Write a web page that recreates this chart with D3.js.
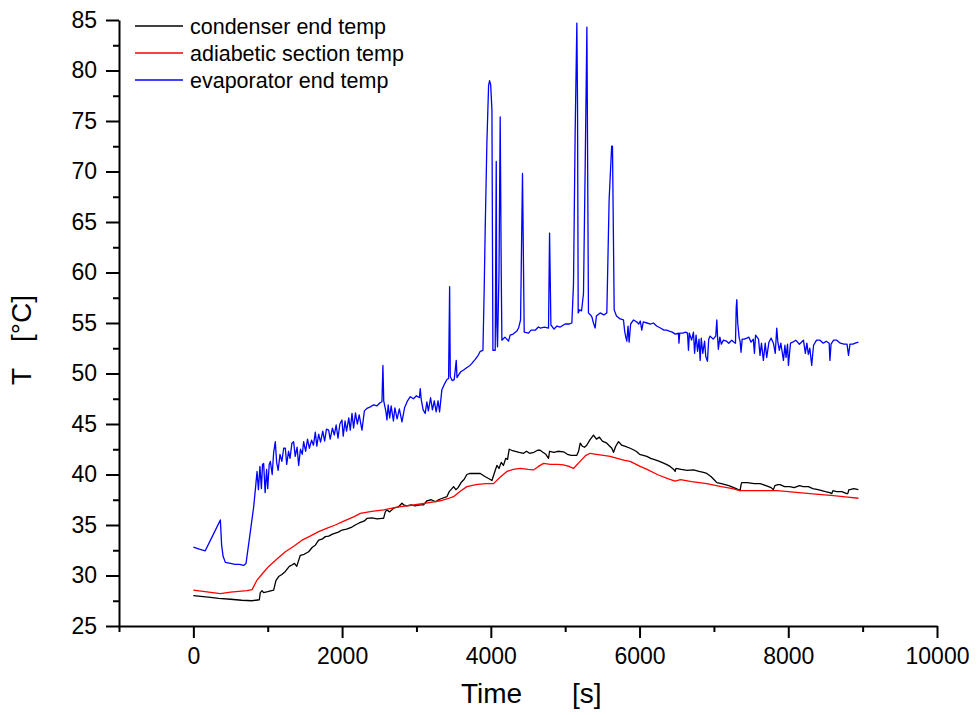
<!DOCTYPE html>
<html>
<head>
<meta charset="utf-8">
<script src="https://cdn.jsdelivr.net/npm/d3@7"></script>
<style>
  body { margin: 0; background: #fff; }
  text { font-family: "Liberation Sans", Arial, sans-serif; }
</style>
</head>
<body>
<div id="chart"></div>
<script>
// series: [time (s), temperature (°C)]
var condenser = [[0,28.0],[200,27.85],[340,27.74],[500,27.65],[650,27.55],[789,27.5],[887,27.6],[900,28.3],[923,28.5],[945,28.3],[1000,28.4],[1080,28.56],[1110,29.5],[1147,29.9],[1190,30.1],[1237,30.4],[1290,30.9],[1326,31.04],[1360,31.2],[1390,30.9],[1438,32.0],[1490,32.1],[1550,32.35],[1600,32.8],[1640,33.0],[1685,33.5],[1730,33.6],[1774,33.85],[1820,33.9],[1870,34.1],[1909,34.2],[1950,34.3],[1998,34.5],[2060,34.6],[2133,34.8],[2177,35.0],[2230,35.2],[2300,35.4],[2334,35.65],[2400,35.7],[2470,35.6],[2536,35.65],[2558,35.65],[2581,36.3],[2600,36.5],[2640,36.3],[2700,36.7],[2760,36.8],[2805,37.15],[2827,37.0],[2870,36.9],[2930,37.0],[2980,36.9],[3050,37.0],[3096,37.0],[3141,37.4],[3200,37.5],[3260,37.3],[3297,37.5],[3330,37.6],[3409,37.8],[3440,38.3],[3477,38.6],[3499,38.8],[3530,38.5],[3560,38.7],[3600,39.2],[3640,39.5],[3678,40.0],[3720,40.1],[3780,40.1],[3858,40.1],[3920,39.8],[3970,39.6],[4015,39.4],[4050,40.2],[4082,40.9],[4110,40.6],[4140,41.2],[4170,40.9],[4200,41.6],[4225,41.5],[4247,42.5],[4280,42.4],[4330,42.3],[4380,42.2],[4440,42.1],[4480,42.3],[4520,42.1],[4580,42.2],[4630,42.4],[4664,42.4],[4700,42.2],[4740,42.0],[4776,41.6],[4790,42.3],[4850,42.2],[4900,42.3],[4977,42.25],[5030,42.0],[5080,41.9],[5112,41.9],[5157,41.9],[5180,42.3],[5202,43.1],[5230,42.8],[5260,42.7],[5290,42.9],[5330,43.4],[5381,43.9],[5420,43.5],[5460,43.7],[5500,43.3],[5560,43.1],[5600,42.8],[5627,42.6],[5650,42.2],[5680,42.8],[5717,43.25],[5760,42.9],[5800,42.8],[5874,42.6],[5930,42.4],[5963,42.25],[6000,42.0],[6098,41.8],[6150,41.6],[6232,41.4],[6300,41.2],[6360,41.0],[6411,40.8],[6460,40.5],[6478,40.3],[6490,40.6],[6560,40.5],[6640,40.4],[6725,40.45],[6800,40.3],[6860,40.2],[6904,40.1],[6960,39.8],[7000,39.5],[7039,39.2],[7100,39.1],[7200,38.9],[7300,38.6],[7352,38.4],[7365,39.0],[7375,39.2],[7450,39.2],[7540,39.1],[7621,39.1],[7700,38.9],[7770,38.7],[7800,38.5],[7820,38.9],[7860,39.0],[7890,39.0],[7950,38.8],[8020,38.8],[8080,38.7],[8150,38.9],[8200,38.8],[8270,38.8],[8330,38.6],[8400,38.5],[8500,38.3],[8560,38.2],[8584,38.1],[8600,38.4],[8650,38.3],[8720,38.3],[8785,38.1],[8800,38.1],[8815,38.5],[8831,38.5],[8880,38.6],[8943,38.5]];

var adiabatic = [[0,28.56],[363,28.2],[500,28.35],[721,28.5],[790,28.6],[856,29.55],[930,30.2],[1013,30.9],[1120,31.6],[1237,32.35],[1350,32.9],[1461,33.5],[1570,33.9],[1685,34.35],[1800,34.7],[1909,35.0],[2030,35.4],[2155,35.8],[2245,36.15],[2400,36.35],[2558,36.5],[2760,36.8],[2961,36.98],[3150,37.2],[3320,37.4],[3420,37.6],[3499,37.8],[3580,38.3],[3678,38.8],[3800,39.0],[3930,39.1],[4037,39.1],[4120,39.7],[4216,40.3],[4300,40.5],[4395,40.6],[4500,40.5],[4574,40.45],[4640,40.8],[4709,41.1],[4800,41.0],[4900,41.0],[4977,40.95],[5050,40.8],[5112,40.6],[5200,41.3],[5280,41.9],[5336,42.1],[5420,42.0],[5515,41.9],[5605,41.8],[5700,41.6],[5800,41.4],[5874,41.3],[6008,40.8],[6100,40.5],[6254,39.95],[6380,39.6],[6478,39.35],[6550,39.5],[6700,39.3],[6904,39.1],[7100,38.8],[7250,38.6],[7352,38.4],[7500,38.4],[7700,38.4],[7845,38.4],[8000,38.3],[8293,38.1],[8450,38.0],[8606,37.9],[8800,37.75],[8943,37.65]];

var evaporator = [[0,32.8],[80,32.6],[160,32.45],[250,33.8],[363,35.5],[380,33.0],[400,31.9],[430,31.3],[500,31.2],[560,31.1],[620,31.1],[676,31.0],[708,31.2],[760,34.0],[811,36.8],[840,39.0],[856,40.3],[875,38.5],[895,40.8],[915,38.6],[930,41.0],[945,41.1],[965,38.2],[985,40.5],[1000,38.6],[1020,41.0],[1035,41.3],[1060,40.0],[1080,42.2],[1102,43.25],[1120,41.2],[1140,40.4],[1165,42.0],[1190,41.3],[1215,42.6],[1237,42.6],[1255,41.0],[1280,42.3],[1300,41.6],[1325,43.1],[1348,43.25],[1370,41.8],[1395,42.7],[1416,40.9],[1440,42.5],[1465,42.0],[1483,43.25],[1510,42.3],[1535,43.5],[1560,42.6],[1590,43.4],[1615,42.9],[1640,44.2],[1660,42.8],[1685,44.0],[1710,43.2],[1740,44.3],[1765,43.3],[1790,44.5],[1819,44.4],[1840,43.5],[1870,44.6],[1895,43.9],[1920,44.9],[1945,43.6],[1970,45.0],[1998,45.4],[2015,43.8],[2040,45.3],[2060,44.3],[2090,45.6],[2110,44.4],[2133,46.05],[2155,44.6],[2180,46.1],[2205,45.0],[2230,45.9],[2267,44.4],[2300,46.3],[2334,46.55],[2380,46.7],[2424,46.9],[2470,46.8],[2510,47.1],[2536,47.2],[2549,50.8],[2560,47.3],[2590,46.2],[2603,45.4],[2620,46.9],[2640,45.6],[2660,46.8],[2690,45.3],[2710,46.6],[2740,45.5],[2770,46.5],[2805,45.2],[2840,46.6],[2880,47.3],[2917,47.7],[2960,47.5],[3000,47.8],[3040,47.6],[3051,48.5],[3065,47.4],[3090,46.4],[3118,46.05],[3140,47.2],[3160,46.3],[3190,47.6],[3215,46.4],[3240,47.3],[3265,46.2],[3290,47.3],[3311,46.2],[3342,48.4],[3380,49.0],[3409,49.4],[3432,49.5],[3446,58.6],[3455,49.7],[3480,49.3],[3508,49.4],[3535,51.3],[3545,49.6],[3570,49.9],[3600,50.2],[3633,50.35],[3680,50.6],[3720,50.8],[3745,51.0],[3790,51.4],[3830,51.8],[3858,52.2],[3894,52.3],[3910,58.0],[3925,64.5],[3947,72.8],[3970,78.5],[3983,79.0],[3998,78.6],[4015,76.1],[4028,52.3],[4059,52.3],[4073,71.0],[4080,55.0],[4090,52.65],[4110,60.0],[4126,75.4],[4140,60.0],[4149,53.3],[4190,53.6],[4238,53.2],[4260,53.8],[4300,53.9],[4350,54.2],[4373,54.5],[4400,55.3],[4426,69.8],[4449,54.1],[4507,54.0],[4540,54.3],[4600,54.3],[4640,54.6],[4664,54.5],[4720,54.6],[4776,54.5],[4790,63.9],[4808,54.8],[4850,54.4],[4890,54.7],[4933,54.6],[5000,54.9],[5050,54.9],[5090,55.0],[5112,58.9],[5134,73.8],[5157,84.7],[5166,76.4],[5175,56.0],[5193,56.3],[5220,56.2],[5246,57.9],[5269,70.5],[5292,84.3],[5313,56.0],[5340,55.8],[5359,55.6],[5380,55.0],[5403,54.5],[5420,55.7],[5470,56.0],[5520,55.8],[5560,56.0],[5591,67.2],[5625,72.5],[5636,72.5],[5659,56.3],[5690,55.7],[5740,55.4],[5784,55.3],[5800,54.2],[5815,53.6],[5829,53.2],[5845,54.7],[5860,53.1],[5880,54.9],[5920,55.3],[5963,55.1],[5990,54.9],[6010,55.2],[6030,54.3],[6050,55.1],[6100,55.0],[6150,54.9],[6187,55.0],[6230,54.7],[6280,54.5],[6330,54.3],[6366,54.3],[6400,54.2],[6440,54.1],[6480,53.9],[6523,54.0],[6530,53.0],[6540,54.0],[6580,54.0],[6620,54.1],[6645,54.0],[6658,52.3],[6670,54.0],[6700,53.3],[6725,54.1],[6740,52.0],[6760,53.8],[6780,52.2],[6800,53.4],[6815,51.3],[6830,53.5],[6850,52.0],[6875,53.2],[6890,51.7],[6913,51.2],[6930,53.4],[6949,53.7],[6990,53.4],[7025,53.7],[7039,55.3],[7050,53.5],[7060,52.4],[7080,53.6],[7100,52.9],[7128,53.3],[7170,53.2],[7200,53.0],[7240,53.3],[7270,53.1],[7290,53.0],[7300,56.5],[7308,57.3],[7320,55.0],[7340,53.5],[7352,53.2],[7365,52.1],[7380,53.4],[7410,53.4],[7442,53.5],[7470,53.6],[7500,53.1],[7530,53.4],[7545,52.0],[7560,53.8],[7580,53.6],[7600,53.4],[7620,51.8],[7640,53.0],[7665,51.3],[7690,53.0],[7710,51.6],[7740,53.1],[7770,53.5],[7800,53.0],[7825,52.0],[7845,54.5],[7860,53.1],[7880,52.3],[7900,53.0],[7935,51.3],[7955,52.8],[7970,51.6],[7990,52.9],[8002,50.8],[8030,53.0],[8060,53.1],[8100,53.3],[8150,52.9],[8204,53.3],[8230,52.0],[8250,53.0],[8270,51.9],[8290,52.5],[8315,50.8],[8340,52.8],[8380,53.3],[8427,53.3],[8470,53.0],[8510,53.2],[8550,53.0],[8560,51.3],[8575,52.9],[8610,53.3],[8652,53.3],[8700,53.0],[8750,52.9],[8790,52.9],[8810,51.8],[8830,52.9],[8870,52.9],[8900,53.0],[8943,53.1]];

var seriesNames = ["condenser end temp", "adiabetic section temp", "evaporator end temp"];
var seriesColors = ["#000000", "#ff0000", "#0000ff"];

var xMajor = [0, 2000, 4000, 6000, 8000, 10000];
var xMinor = [-1000, 1000, 3000, 5000, 7000, 9000];
var yMajor = [25, 30, 35, 40, 45, 50, 55, 60, 65, 70, 75, 80, 85];
var yMinor = [27.5, 32.5, 37.5, 42.5, 47.5, 52.5, 57.5, 62.5, 67.5, 72.5, 77.5, 82.5];

function drawChart(){
    var width = 977, height = 715;
    var m = {left: 119, right: 937, top: 20, bottom: 626};

    var svg = d3.select("#chart").append("svg")
        .attr("width", width)
        .attr("height", height);

    var x = d3.scaleLinear().domain([-1000, 10000]).range([m.left, m.right]);
    var y = d3.scaleLinear().domain([25, 85]).range([m.bottom, m.top]);

    // minor ticks first, then the labelled axis on top
    svg.append("g")
        .attr("transform", "translate(0," + m.bottom + ")")
        .call(d3.axisBottom(x).tickValues(xMinor).tickSize(6).tickFormat(""))
        .call(function(g){ g.select(".domain").remove(); });

    svg.append("g")
        .attr("transform", "translate(" + m.left + ",0)")
        .call(d3.axisLeft(y).tickValues(yMinor).tickSize(6).tickFormat(""))
        .call(function(g){ g.select(".domain").remove(); });

    svg.append("g")
        .attr("transform", "translate(0," + m.bottom + ")")
        .call(d3.axisBottom(x).tickValues(xMajor).tickSize(12).tickSizeOuter(0).tickPadding(10).tickFormat(d3.format("d")));

    svg.append("g")
        .attr("transform", "translate(" + m.left + ",0)")
        .call(d3.axisLeft(y).tickValues(yMajor).tickSize(13).tickSizeOuter(0).tickPadding(9));

    svg.selectAll(".tick line, .domain")
        .attr("stroke", "#000")
        .attr("stroke-width", 2);
    svg.selectAll(".tick text")
        .attr("fill", "#000")
        .style("font-size", "23px")
        .style("font-family", "'Liberation Sans', Arial, sans-serif");

    // lines
    var line = d3.line()
        .x(function(d){ return x(d[0]); })
        .y(function(d){ return y(d[1]); });

    var allSeries = [condenser, adiabatic, evaporator];
    svg.append("g")
        .selectAll("path")
        .data(allSeries)
        .enter().append("path")
        .attr("d", line)
        .attr("fill", "none")
        .attr("stroke", function(d, i){ return seriesColors[i]; })
        .attr("stroke-width", 1.3)
        .attr("stroke-linejoin", "round");

    // legend
    var legend = svg.append("g").selectAll("g")
        .data(seriesNames)
        .enter().append("g")
        .attr("transform", function(d, i){ return "translate(135," + (26 + i * 27) + ")"; });

    legend.append("line")
        .attr("x1", 0).attr("x2", 48)
        .attr("stroke", function(d, i){ return seriesColors[i]; })
        .attr("stroke-width", 1.3);

    legend.append("text")
        .attr("x", 55)
        .attr("dy", "0.35em")
        .style("font-size", "21.5px")
        .text(function(d){ return d; });

    // axis titles
    svg.append("text").attr("x", 461).attr("y", 703).style("font-size", "28px").text("Time");
    svg.append("text").attr("x", 572).attr("y", 703).style("font-size", "28px").text("[s]");

    svg.append("text").attr("transform", "translate(31,385) rotate(-90)").style("font-size", "28px").text("T");
    svg.append("text").attr("transform", "translate(31,342) rotate(-90)").style("font-size", "28px").text("[°C]");
}

drawChart();
</script>
</body>
</html>
